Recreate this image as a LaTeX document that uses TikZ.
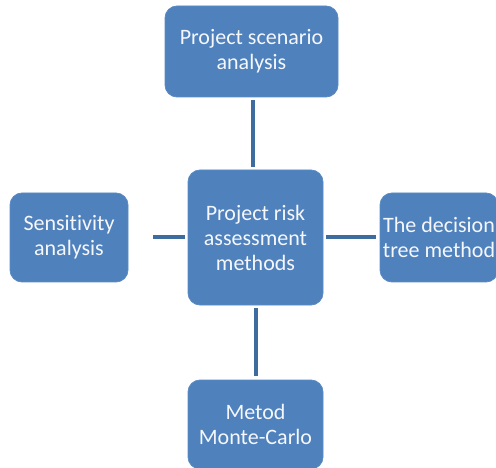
\documentclass[tikz,border=0pt]{standalone}
\usepackage{fontspec}
\setmainfont{Carlito}[Ligatures=NoCommon]
\definecolor{boxblue}{HTML}{4F81BD}
\definecolor{boxedge}{HTML}{5A8AC4}
\definecolor{linkblue}{HTML}{3F6C9F}

\tikzset{
    method/.style={fill=boxblue,draw=boxedge,line width=0.8pt,rounded corners=12pt,
                   text=white!94!boxblue,align=center,inner sep=0pt,
                   font=\fontsize{22}{25}\selectfont},
    link/.style={linkblue,line width=4pt}
}

\begin{document}
\begin{tikzpicture}[x=1pt,y=-1pt]
            \useasboundingbox (0,0) rectangle (496,468);

            % hub
            \node[method,minimum width=135pt,minimum height=135pt] (center) at (255.5,237.5)
                {Project risk\\assessment\\methods};

            % the four methods round it
            \node[method,minimum width=173pt,minimum height=91pt] (scenario) at (251.5,51.5)
                {Project scenario\\analysis};
            \node[method,minimum width=118pt,minimum height=89pt] (sensitivity) at (69,237.5)
                {Sensitivity\\analysis};
            \node[method,minimum width=118pt,minimum height=89pt] (tree) at (439,237.5)
                {The decision\\tree method};
            \node[method,minimum width=135pt,minimum height=89pt] (montecarlo) at (255.5,424.5)
                {Metod\\Monte-Carlo};

            \draw[link,shorten <=3pt,shorten >=3pt] ([xshift=1.5pt]scenario.south) -- ([xshift=-2.5pt]center.north);
            \draw[link,shorten <=25pt,shorten >=3pt] (sensitivity.east) -- (center.west);
            \draw[link,shorten <=3pt,shorten >=4pt] (center.east) -- (tree.west);
            \draw[link,shorten <=3pt,shorten >=4pt] (center.south) -- (montecarlo.north);
\end{tikzpicture}
\end{document}
